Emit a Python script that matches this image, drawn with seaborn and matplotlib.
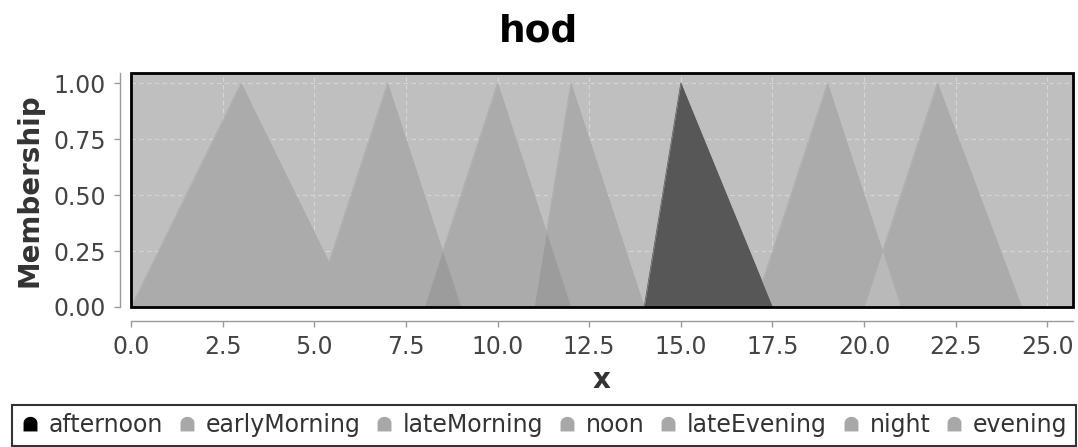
import numpy as np
import pandas as pd
import seaborn as sns
import matplotlib
matplotlib.use("Agg")
import matplotlib.pyplot as plt
from matplotlib.path import Path
from matplotlib.lines import Line2D
from matplotlib.patches import Rectangle

# ---- data (breakpoints of triangular membership functions) ----
terms = ["afternoon", "earlyMorning", "lateMorning", "noon", "lateEvening", "night", "evening"]
afternoon_x = [14.0, 15.0, 17.5]
earlyMorning_x = [5.0, 7.0, 9.0]
lateMorning_x = [8.0, 10.0, 12.0]
noon_x = [11.0, 12.0, 14.0]
lateEvening_x = [20.0, 22.0, 24.3]
night_x = [0.0, 3.0, 6.0]
evening_x = [17.0, 19.0, 21.0]
tri_y = [0.0, 1.0, 0.0]
x_ticks = [0.0, 2.5, 5.0, 7.5, 10.0, 12.5, 15.0, 17.5, 20.0, 22.5, 25.0]
y_ticks = [0.0, 0.25, 0.5, 0.75, 1.0]

term_x = {
    "afternoon": afternoon_x, "earlyMorning": earlyMorning_x, "lateMorning": lateMorning_x,
    "noon": noon_x, "lateEvening": lateEvening_x, "night": night_x, "evening": evening_x,
}
rows = []
for t in terms:
    for xv, yv in zip(term_x[t], tri_y):
        rows.append({"term": t, "x": xv, "membership": yv})
df = pd.DataFrame(rows)

BG = "#bfbfbf"
TRI = "#ababab"
AFT = "#575757"
palette = {t: (AFT if t == "afternoon" else TRI) for t in terms}

sns.set_theme(style="white")
plt.rcParams["font.family"] = ["DejaVu Sans"]

fig = plt.figure(figsize=(10.78, 4.47), dpi=100)
ax = fig.add_axes([131 / 1078, 1 - 307 / 447, (1073 - 131) / 1078, (307 - 73) / 447])
ax.set_facecolor(BG)

# outlines via seaborn (kept beneath the fills so no visible edge lines)
sns.lineplot(data=df, x="x", y="membership", hue="term", palette=palette,
             units="term", estimator=None, sort=False, legend=False, lw=0.5, ax=ax, zorder=1.5)

# draw gray terms first, afternoon last
order = [t for t in terms if t != "afternoon"] + ["afternoon"]
for t in order:
    sub = df[df.term == t]
    z = 5 if t == "afternoon" else 2
    ax.fill_between(sub["x"], sub["membership"], 0, color=palette[t], lw=0, zorder=z)

# overlap regions derived from the data
xs = np.linspace(0, 25.7, 3000)
def mf(t):
    return np.interp(xs, term_x[t], tri_y, left=0, right=0)
for a, b, c in [("earlyMorning", "lateMorning", "#9c9c9c"),
                ("lateMorning", "noon", "#9c9c9c"),
                ("evening", "lateEvening", "#b9b9b9")]:
    ov = np.minimum(mf(a), mf(b))
    ax.fill_between(xs, ov, 0, where=ov > 0, color=c, lw=0, zorder=4)

ax.set_xlim(0, 25.7)
ax.set_ylim(0, 1.045)
ax.set_xticks(x_ticks)
ax.set_yticks(y_ticks)
ax.set_xticklabels([f"{v:.1f}" for v in x_ticks])
ax.set_yticklabels([f"{v:.2f}" for v in y_ticks])
ax.grid(True, color="#d6d6d6", ls=(0, (4, 3)), lw=0.8, zorder=1)
ax.set_axisbelow(True)

for s in ["top", "right"]:
    ax.spines[s].set_visible(False)
ax.spines["left"].set_position(("outward", 8))
ax.spines["bottom"].set_position(("outward", 10))
for s in ["left", "bottom"]:
    ax.spines[s].set_color("#9a9a9a")
    ax.spines[s].set_linewidth(1.0)
ax.tick_params(axis="both", which="both", direction="out", length=4, width=1,
               color="#9a9a9a", labelcolor="#444444", labelsize=17, pad=6,
               bottom=True, left=True)
ax.add_patch(Rectangle((0, 0), 1, 1, transform=ax.transAxes, fill=False,
                       ec="black", lw=2, clip_on=False, zorder=10))

ax.set_xlabel("x", fontsize=20, fontweight="bold", color="#333333", labelpad=5)
ax.set_ylabel("Membership", fontsize=20, fontweight="bold", color="#333333", labelpad=7)
fig.suptitle("hod", fontsize=27, fontweight="bold", color="black", y=1 - 32 / 447, va="center")

# legend with bell-shaped markers
th = np.linspace(0, np.pi, 24)
verts = [(np.cos(a), 0.2 + 0.9 * np.sin(a)) for a in th] + [(-1.0, -1.0), (1.0, -1.0), (1.0, 0.2)]
codes = [Path.MOVETO] + [Path.LINETO] * (len(verts) - 2) + [Path.CLOSEPOLY]
bell = Path(verts, codes)
handles = [Line2D([], [], marker=bell, ls="none", markersize=11,
                  markerfacecolor=("black" if t == "afternoon" else "#a8a8a8"),
                  markeredgewidth=0) for t in terms]
leg = fig.legend(handles, terms, loc="upper center", bbox_to_anchor=(0.5045, 1 - 405 / 447),
                 ncol=7, fontsize=17, frameon=True, fancybox=False, handlelength=0.8,
                 handletextpad=0.4, columnspacing=0.6, borderpad=0.35, borderaxespad=0)
leg.get_frame().set_edgecolor("black")
leg.get_frame().set_linewidth(1.5)
for txt in leg.get_texts():
    txt.set_color("#333333")

fig.savefig("out.png", dpi=100)
